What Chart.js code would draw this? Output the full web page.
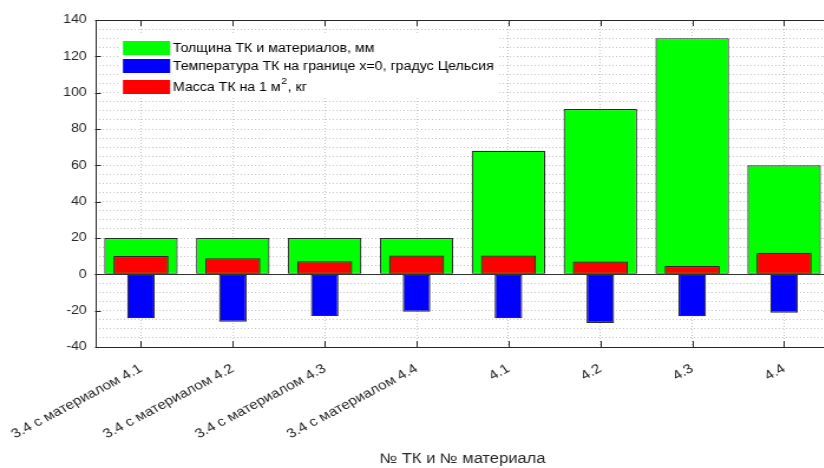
<!DOCTYPE html>
<html lang="ru">
<head>
  <meta charset="UTF-8">
  <title>ТК и материалы</title>
  <script src="https://cdn.jsdelivr.net/npm/chart.js"></script>
  <style>
    html, body {
      margin: 0;
      padding: 0;
      background: #ffffff;
      overflow: hidden;
    }
    /* исходная картинка растянута по горизонтали; рисуем уже и растягиваем так же,
       правая рамка осей уходит за край окна */
    #chart-box {
      width: 708px;
      height: 468px;
      transform: scaleX(1.18);
      transform-origin: 0 0;
    }
  </style>
</head>
<body>
<div id="chart-box">
  <canvas id="tkChart"></canvas>
</div>
<script>
  // Подписи категорий
  const categories = [
    '3.4 с материалом 4.1', '3.4 с материалом 4.2', '3.4 с материалом 4.3', '3.4 с материалом 4.4',
    '4.1', '4.2', '4.3', '4.4'
  ];

  // Значения рядов
  const thickness = [20, 20, 20, 20, 68, 91, 130, 60];
  const temperature = [-24.2, -26.1, -23, -20.6, -24.2, -26.8, -23.1, -21.1];
  const mass = [10.1, 8.8, 7.2, 10.4, 10.4, 7.1, 4.6, 11.9];

  const seriesLabels = [
    'Толщина ТК и материалов, мм',
    'Температура ТК на границе x=0, градус Цельсия',
    'Масса ТК на 1 м², кг'
  ];

  const yMin = -40, yMax = 140, yMajor = 20, yMinor = 5;
  const axisTitle = '№ ТК и № материала';

  const FONT = '"Liberation Sans", Arial, sans-serif';
  const INK = '#262626';
  const GRID = '#c4c4c4';

  // Рамка осей, базовая линия и внутренние засечки (как в MATLAB)
  const axesBox = {
    id: 'axesBox',
    beforeDatasetsDraw(chart) {
      // белая подложка легенды закрывает сетку
      const a = chart.chartArea;
      const ctx = chart.ctx;
      ctx.save();
      ctx.fillStyle = '#ffffff';
      ctx.fillRect(a.left + 19.5, a.top + 13, 322, 65);
      ctx.restore();
    },
    afterDatasetsDraw(chart) {
      const a = chart.chartArea;
      const ctx = chart.ctx;
      const x = chart.scales.x, y = chart.scales.y;
      ctx.save();
      ctx.lineWidth = 1;

      // базовая линия y = 0
      const y0 = Math.round(y.getPixelForValue(0)) + 0.5;
      ctx.strokeStyle = '#333333';
      ctx.beginPath();
      ctx.moveTo(a.left, y0);
      ctx.lineTo(a.right, y0);
      ctx.stroke();

      // рамка
      ctx.strokeStyle = INK;
      ctx.beginPath();
      ctx.rect(Math.round(a.left) + 0.5, Math.round(a.top) + 0.5,
               Math.round(a.right - a.left), Math.round(a.bottom - a.top));
      ctx.stroke();

      // засечки
      ctx.beginPath();
      for (let v = yMin; v <= yMax; v += yMajor) {
        const py = Math.round(y.getPixelForValue(v)) + 0.5;
        ctx.moveTo(a.left, py); ctx.lineTo(a.left + 5, py);
        ctx.moveTo(a.right, py); ctx.lineTo(a.right - 5, py);
      }
      categories.forEach((c, i) => {
        const px = Math.round(x.getPixelForValue(i)) + 0.5;
        ctx.moveTo(px, a.bottom); ctx.lineTo(px, a.bottom - 6);
        ctx.moveTo(px, a.top); ctx.lineTo(px, a.top + 6);
      });
      ctx.stroke();
      ctx.restore();
    },
    afterDraw(chart) {
      // легенда внутри области графика
      const a = chart.chartArea;
      const ctx = chart.ctx;
      const rows = [a.top + 21, a.top + 39, a.top + 60];
      ctx.save();
      chart.data.datasets.forEach((ds, i) => {
        const top = rows[i];
        ctx.fillStyle = ds.backgroundColor;
        ctx.fillRect(a.left + 23.7, top, 40, 14);
        ctx.fillStyle = '#000000';
        ctx.textBaseline = 'middle';
        ctx.textAlign = 'left';
        let tx = a.left + 66;
        const ty = top + 7.5;
        const parts = ds.label.split('²');
        ctx.font = '12px ' + FONT;
        ctx.fillText(parts[0], tx, ty);
        if (parts.length > 1) {
          tx += ctx.measureText(parts[0]).width;
          ctx.font = '9px ' + FONT;
          ctx.fillText('2', tx + 0.5, ty - 6);
          tx += ctx.measureText('2').width + 1;
          ctx.font = '12px ' + FONT;
          ctx.fillText(parts[1], tx, ty);
        }
      });
      ctx.restore();
    }
  };

  const barStyle = { borderColor: '#2a2a2a', borderWidth: 1.2, borderSkipped: false, categoryPercentage: 1, grouped: false };

  new Chart(document.getElementById('tkChart'), {
    type: 'bar',
    data: {
      labels: categories,
      datasets: [
        Object.assign({ label: seriesLabels[0], data: thickness, backgroundColor: '#00ff00', barPercentage: 0.8, order: 2 }, barStyle),
        Object.assign({ label: seriesLabels[1], data: temperature, backgroundColor: '#0000ff', barPercentage: 0.3, order: 0 }, barStyle),
        Object.assign({ label: seriesLabels[2], data: mass, backgroundColor: '#ff0000', barPercentage: 0.6, order: 1 }, barStyle)
      ]
    },
    options: {
      responsive: true,
      maintainAspectRatio: false,
      animation: false,
      layout: { padding: { left: 0, right: 4.6, top: 20, bottom: 0 } },
      plugins: {
        legend: { display: false },
        tooltip: { enabled: false }
      },
      scales: {
        x: {
          grid: { display: true, offset: false, color: GRID, drawTicks: false },
          border: { display: false, dash: [1, 2] },
          ticks: {
            autoSkip: false,
            minRotation: 32,
            maxRotation: 32,
            padding: 14,
            color: INK,
            font: { family: FONT, size: 13 }
          },
          title: {
            display: true,
            text: axisTitle,
            color: INK,
            font: { family: FONT, size: 14 },
            padding: { top: 0, bottom: 0 }
          },
          afterFit: (s) => {
            s.height = 121;
            s.paddingLeft = 0;
            s.paddingRight = 0;
          }
        },
        y: {
          min: yMin,
          max: yMax,
          grid: { color: GRID, drawTicks: false },
          border: { display: false, dash: [1, 2] },
          ticks: {
            autoSkip: false,
            stepSize: yMinor,
            padding: 7,
            color: INK,
            font: { family: FONT, size: 12 },
            callback: (v) => (v % yMajor === 0 ? v : '')
          },
          afterFit: (s) => { s.width = 80.5; }
        }
      }
    },
    plugins: [axesBox]
  });
</script>
</body>
</html>
